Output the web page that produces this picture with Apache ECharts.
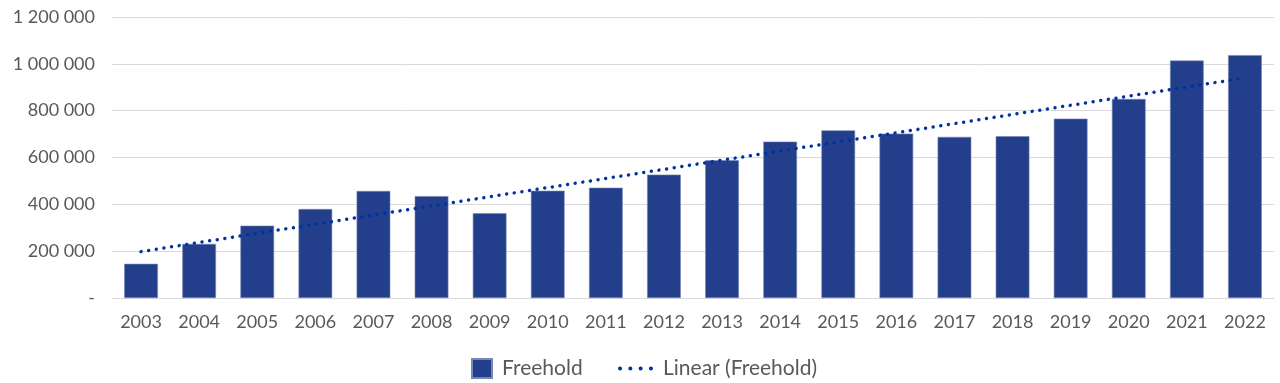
<!DOCTYPE html>
<html>
<head>
<meta charset="utf-8">
<script src="https://cdn.jsdelivr.net/npm/echarts@6/dist/echarts.min.js"></script>
<style>html,body{margin:0;padding:0;background:#fff;}#c{width:1280px;height:383px;}</style>
</head>
<body>
<div id="c"></div>
<script>
var categories = ['2003','2004','2005','2006','2007','2008','2009','2010','2011','2012','2013','2014','2015','2016','2017','2018','2019','2020','2021','2022'];
var freehold = [146000, 231000, 309000, 380000, 457000, 435000, 362000, 458000, 471000, 527000, 588000, 668000, 716000, 702000, 688000, 691000, 766000, 850000, 1014000, 1037000];
// Trendline endpoints (drawn straight between them)
var linearFreehold = [198000, null, null, null, null, null, null, null, null, null, null, null, null, null, null, null, null, null, null, 940000];
var yTicks = [0, 200000, 400000, 600000, 800000, 1000000, 1200000];

var font = 'Lato';
var txt = '#595959';
function fmt(v) {
  if (v === 0) return '-';
  return String(v).replace(/\B(?=(\d{3})+(?!\d))/g, ' ');
}
var chart = echarts.init(document.getElementById('c'));
chart.setOption({
  animation: false,
  textStyle: { fontFamily: font },
  grid: { left: 112, right: 6, top: 17, bottom: 85, containLabel: false },
  legend: [{
    left: 471, top: 358, padding: 0,
    itemWidth: 20, itemHeight: 19, itemGap: 10,
    textStyle: { color: txt, fontSize: 21, fontFamily: font, padding: [0, 0, 0, 5] },
    data: [{ name: 'Freehold', icon: 'rect' }]
  }, {
    left: 618, top: 358, padding: 0,
    itemWidth: 35, itemHeight: 4.5, itemGap: 10,
    textStyle: { color: txt, fontSize: 21, fontFamily: font, padding: [0, 0, 0, 5] },
    data: [{ name: 'Linear (Freehold)', icon: 'path://M0,2a2,2 0 1,0 4,0a2,2 0 1,0 -4,0M10,2a2,2 0 1,0 4,0a2,2 0 1,0 -4,0M20,2a2,2 0 1,0 4,0a2,2 0 1,0 -4,0M30,2a2,2 0 1,0 4,0a2,2 0 1,0 -4,0', itemStyle: { color: '#0033A0' } }]
  }],
  xAxis: {
    type: 'category',
    data: categories,
    axisLine: { show: true, lineStyle: { color: '#d9d9d9', width: 1 } },
    axisTick: { show: false },
    axisLabel: { color: txt, fontSize: 18, fontFamily: font, margin: 15 }
  },
  yAxis: {
    type: 'value',
    min: 0, max: 1200000, interval: 200000,
    axisLine: { show: false },
    axisTick: { show: false },
    splitLine: { lineStyle: { color: '#d9d9d9', width: 1 } },
    axisLabel: { color: txt, fontSize: 18, fontFamily: font, margin: 17, formatter: fmt }
  },
  series: [{
    name: 'Freehold',
    type: 'bar',
    data: freehold,
    barWidth: '58%',
    itemStyle: { color: '#233F8C', borderColor: '#7887b6', borderWidth: 0.6 }
  }, {
    name: 'Linear (Freehold)',
    type: 'line',
    data: linearFreehold,
    connectNulls: true,
    symbol: 'none',
    z: 5,
    lineStyle: { color: '#0033A0', width: 3.5, type: [0.01, 7.7], cap: 'round' }
  }]
});
</script>
</body>
</html>
